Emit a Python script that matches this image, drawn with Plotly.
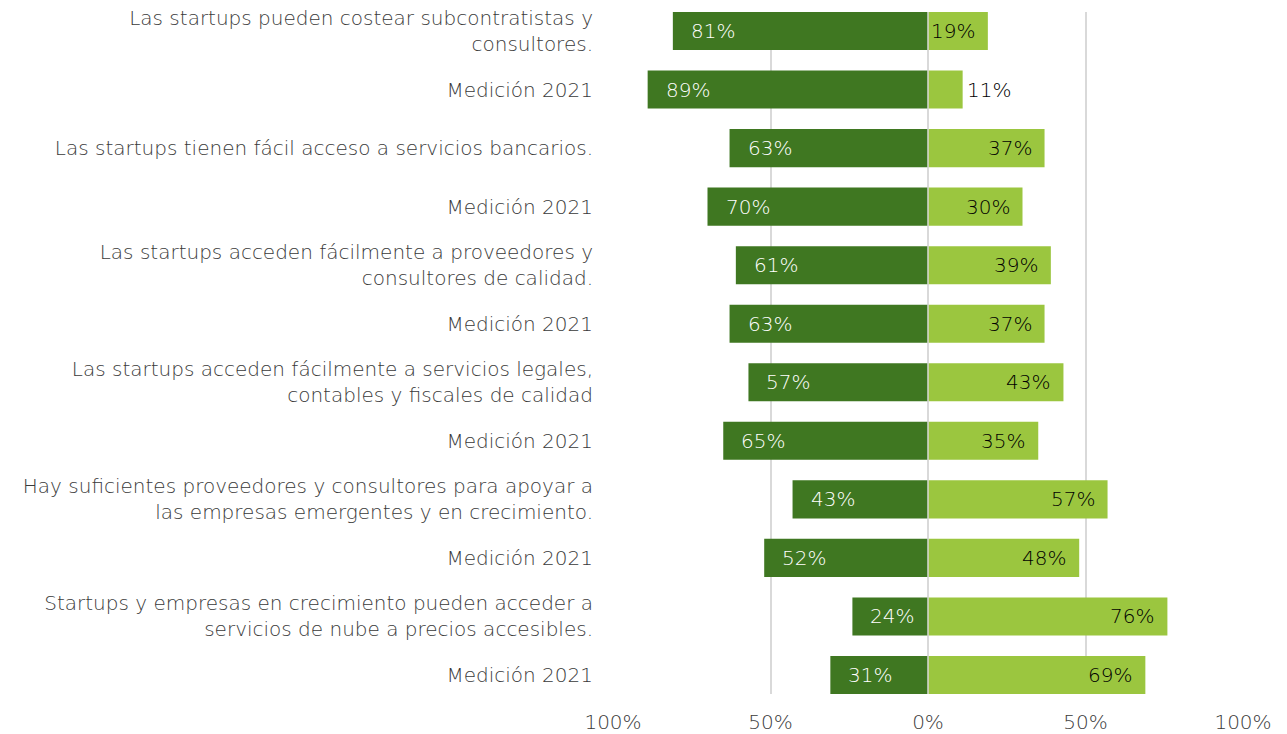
import plotly.graph_objects as go

categories = [
    "Las startups pueden costear subcontratistas y<br>consultores.",
    "Medición 2021",
    "Las startups tienen fácil acceso a servicios bancarios.",
    "Medición 2021",
    "Las startups acceden fácilmente a proveedores y<br>consultores de calidad.",
    "Medición 2021",
    "Las startups acceden fácilmente a servicios legales,<br>contables y fiscales de calidad",
    "Medición 2021",
    "Hay suficientes proveedores y consultores para apoyar a<br>las empresas emergentes y en crecimiento.",
    "Medición 2021",
    "Startups y empresas en crecimiento pueden acceder a<br>servicios de nube a precios accesibles.",
    "Medición 2021",
]
disagree = [81, 89, 63, 70, 61, 63, 57, 65, 43, 52, 24, 31]
agree = [19, 11, 37, 30, 39, 37, 43, 35, 57, 48, 76, 69]
tick_vals = [-100, -50, 0, 50, 100]
tick_text = ["100%", "50%", "0%", "50%", "100%"]

DARK = "#3F7721"
LIGHT = "#9BC63F"
FONT = "DejaVu Sans"
FS = 20
W = 300
GREY = "#3A3A3A"
ypos = list(range(len(categories)))

fig = go.Figure()
fig.add_trace(go.Bar(y=ypos, x=[-v for v in disagree], orientation="h",
                     marker=dict(color=DARK, line=dict(width=0)), width=0.65,
                     hoverinfo="skip"))
fig.add_trace(go.Bar(y=ypos, x=agree, orientation="h",
                     marker=dict(color=LIGHT, line=dict(width=0)), width=0.65,
                     hoverinfo="skip"))

for y, v in zip(ypos, disagree):
    fig.add_annotation(x=-v, y=y, text=f"{v}%", showarrow=False, xanchor="center",
                       xshift=40, font=dict(color="white", size=FS, family=FONT, weight=W))
for y, v in zip(ypos, agree):
    if v >= 15:
        fig.add_annotation(x=v, y=y, text=f"{v}%", showarrow=False, xanchor="right",
                           xshift=-11, font=dict(color="#000000", size=FS, family=FONT, weight=W))
    else:
        fig.add_annotation(x=v, y=y, text=f"{v}%", showarrow=False, xanchor="left",
                           xshift=2, font=dict(color="#000000", size=FS, family=FONT, weight=W))

fig.add_shape(type="line", x0=0, x1=0, y0=0, y1=1, xref="x", yref="paper",
              line=dict(color="#D9D9D9", width=1.5), layer="above")

fig.update_layout(
    width=1287, height=734,
    barmode="relative", bargap=0.35,
    showlegend=False,
    plot_bgcolor="white", paper_bgcolor="white",
    margin=dict(l=613, r=44, t=12, b=40, autoexpand=False),
    font=dict(family=FONT, size=FS, color=GREY, weight=W),
    xaxis=dict(range=[-100, 100], tickvals=tick_vals, ticktext=tick_text,
               showgrid=True, gridcolor="#D9D9D9", gridwidth=1.5, zeroline=False,
               ticklabelstandoff=14,
               tickfont=dict(size=FS, color=GREY, family=FONT, weight=W),
               fixedrange=True, automargin=False),
    yaxis=dict(tickvals=ypos, ticktext=categories, range=[11.325, -0.325],
               showgrid=False, zeroline=False, ticklabelstandoff=19,
               ticklabeloverflow="allow", fixedrange=True,
               tickfont=dict(size=FS, color=GREY, family=FONT, weight=W),
               automargin=False),
)

fig.write_html("out.html",
               config={"displayModeBar": False},
               post_script="document.body.style.margin='0';document.body.style.overflow='hidden';")
